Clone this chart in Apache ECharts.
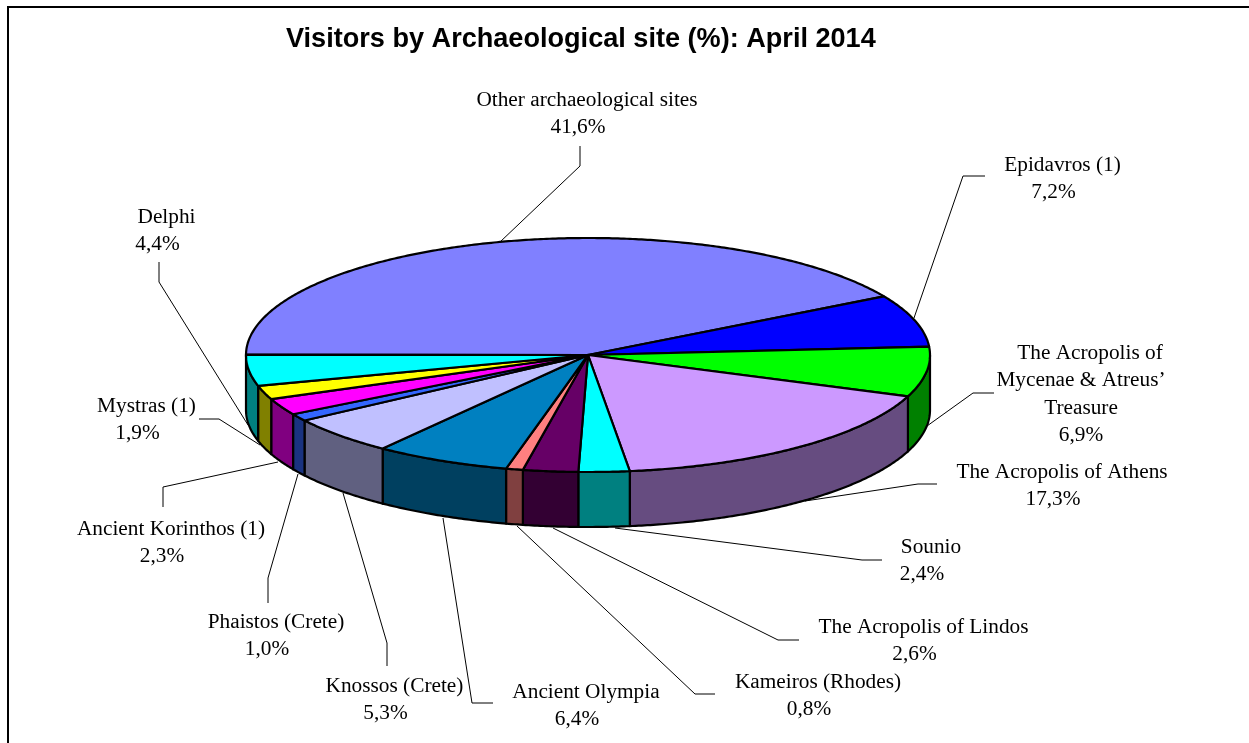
<!DOCTYPE html>
<html>
<head>
<meta charset="utf-8">
<style>
  html, body { margin: 0; padding: 0; background: #fff; }
  #chart { width: 1249px; height: 743px; }
</style>
<script src="https://cdn.jsdelivr.net/npm/echarts@6/dist/echarts.min.js"></script>
</head>
<body>
<div id="chart"></div>
<script>
// data, clockwise starting from the 9 o'clock position
const categories = [
  'Other archaeological sites', 'Epidavros (1)', 'The Acropolis of\nMycenae & Atreus’\nTreasure',
  'The Acropolis of Athens', 'Sounio', 'The Acropolis of Lindos', 'Kameiros (Rhodes)',
  'Ancient Olympia', 'Knossos (Crete)', 'Phaistos (Crete)', 'Ancient Korinthos (1)',
  'Mystras (1)', 'Delphi'
];
const values = [41.6, 7.2, 6.9, 17.3, 2.4, 2.6, 0.8, 6.4, 5.3, 1.0, 2.3, 1.9, 4.4];

const topColors = ['#8080ff', '#0000ff', '#00ff00', '#cc99ff', '#00ffff', '#660066', '#ff8080',
  '#0080c0', '#c0c0ff', '#3366ff', '#ff00ff', '#ffff00', '#00ffff'];
const sideColors = ['#404080', '#000080', '#008000', '#664c80', '#008080', '#330033', '#804040',
  '#004060', '#606080', '#1a3380', '#800080', '#808000', '#008080'];

// label placement: centre x, y of the first line
const labelPos = [
  [578, 100], [1053.5, 165], [1081, 353], [1053, 472],
  [922, 547], [914.5, 627], [809, 682], [577, 692],
  [385.5, 686], [267, 622], [162, 529], [137.5, 406],
  [157.5, 217]
];
// first line of every label sits a bit right of the lines under it
const firstLineShift = 9;
const lineStep = 27.6;
// leader lines, pie end first
const leaders = [
  [[500, 242], [580, 166], [580, 146]],
  [[914, 318], [963, 176], [985, 176]],
  [[927, 426], [973, 393], [994, 393]],
  [[805, 501], [918, 484], [937, 484]],
  [[615, 528], [862, 560], [882, 560]],
  [[553, 528], [778, 640], [799, 640]],
  [[517, 526], [695, 694], [715, 694]],
  [[443, 518], [472, 703], [493, 703]],
  [[343, 493], [387, 643], [387, 666]],
  [[298, 474], [268, 578], [268, 603]],
  [[278, 462], [163, 487], [163, 507]],
  [[260, 445], [219, 419], [199, 419]],
  [[248, 425], [159, 282], [159, 262]]
];

const cx = 588, cy = 355, rx = 342, ry = 117, depth = 55;
const startOffset = 0.0005; // small turn of the whole pie
const starts = [];
values.reduce((acc, v, i) => { starts[i] = startOffset + acc / 100; return acc + v; }, 0);

function sliceEnd(i, v) {
  return Math.min(starts[i] + v / 100, 1 + startOffset);
}
function edgePoint(f, dy) {
  const t = Math.PI + 2 * Math.PI * f;
  return [cx + rx * Math.cos(t), cy + dy + ry * Math.sin(t)];
}
function arc(f0, f1, dy) {
  const n = Math.max(2, Math.ceil((f1 - f0) * 720));
  const pts = [];
  for (let k = 0; k <= n; k++) pts.push(edgePoint(f0 + (f1 - f0) * k / n, dy));
  return pts;
}

const seriesData = values.map((v, i) => [i, v]);
const chart = echarts.init(document.getElementById('chart'));

chart.setOption({
  animation: false,
  backgroundColor: '#fff',
  title: {
    text: 'Visitors by Archaeological site (%): April 2014',
    left: 281, top: 21,
    textStyle: { fontFamily: 'Liberation Sans', fontWeight: 'bold', fontSize: 27.1, color: '#000' }
  },
  graphic: [{
    type: 'polyline', z: 0,
    shape: { points: [[8, 743], [8, 7], [1249, 7]] },
    style: { fill: null, stroke: '#000', lineWidth: 2 }
  }],
  series: [
    {
      // leader lines and labels
      type: 'custom', coordinateSystem: 'none', z: 1, silent: true, data: seriesData,
      renderItem: function (params, api) {
        const i = api.value(0);
        const p = labelPos[i];
        const lines = categories[i].split('\n');
        lines.push(api.value(1).toFixed(1).replace('.', ',') + '%');
        const children = [{
          type: 'polyline',
          shape: { points: leaders[i] },
          style: { fill: null, stroke: '#000', lineWidth: 1 }
        }];
        lines.forEach(function (line, k) {
          children.push({
            type: 'text',
            x: p[0] + (k === 0 ? firstLineShift : 0),
            y: p[1] + k * lineStep,
            style: {
              text: line,
              fontFamily: 'Liberation Serif', fontSize: 21.3,
              fill: '#000', align: 'center', verticalAlign: 'middle'
            }
          });
        });
        return { type: 'group', children: children };
      }
    },
    {
      // outer wall, front half only
      type: 'custom', coordinateSystem: 'none', z: 2, silent: true, data: seriesData,
      renderItem: function (params, api) {
        const i = api.value(0);
        const f0 = Math.max(starts[i], 0.5);
        const f1 = sliceEnd(i, api.value(1));
        if (f1 <= 0.5) return null;
        const points = arc(f0, f1, 0).concat(arc(f0, f1, depth).reverse());
        return {
          type: 'polygon',
          shape: { points: points },
          style: { fill: sideColors[i], stroke: '#000', lineWidth: 2.2, lineJoin: 'round' }
        };
      }
    },
    {
      // top face
      type: 'custom', coordinateSystem: 'none', z: 3, silent: true, data: seriesData,
      renderItem: function (params, api) {
        const i = api.value(0);
        const f1 = sliceEnd(i, api.value(1));
        const points = [[cx, cy]].concat(arc(starts[i], f1, 0));
        return {
          type: 'polygon',
          shape: { points: points },
          style: { fill: topColors[i], stroke: '#000', lineWidth: 2.2, lineJoin: 'round' }
        };
      }
    }
  ]
});
</script>
</body>
</html>
